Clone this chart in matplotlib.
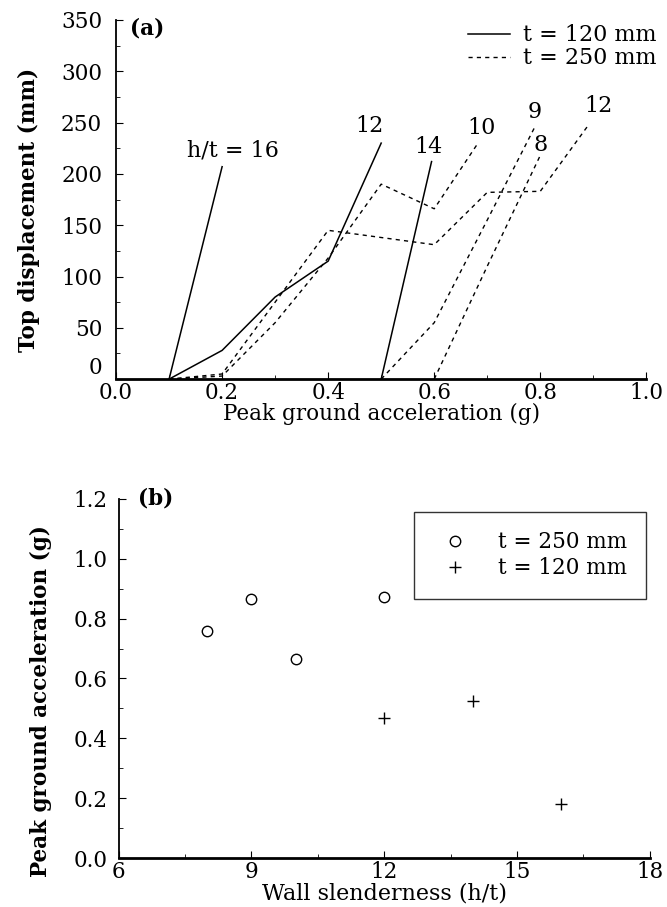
import matplotlib
matplotlib.use("Agg")
import matplotlib.pyplot as plt
from matplotlib.lines import Line2D
from matplotlib.ticker import MultipleLocator, FormatStrFormatter, FuncFormatter
from matplotlib.transforms import blended_transform_factory, ScaledTranslation

plt.rcParams['font.family'] = ['DejaVu Serif']

# %% panel (a): top displacement vs PGA
# t = 120 mm (solid)
pga_120_16 = [0.1, 0.2]
disp_120_16 = [0, 207]
pga_120_12 = [0.1, 0.2, 0.3, 0.4, 0.5]
disp_120_12 = [0, 28, 80, 115, 230]
pga_120_14 = [0.5, 0.595]
disp_120_14 = [0, 212]

# t = 250 mm (dashed)
pga_250_10 = [0.1, 0.2, 0.3, 0.4, 0.5, 0.6, 0.68]
disp_250_10 = [0, 3, 55, 118, 190, 166, 228]
pga_250_12 = [0.1, 0.2, 0.3, 0.4, 0.6, 0.7, 0.8, 0.89]
disp_250_12 = [0, 5, 75, 145, 131, 182, 183, 247]
pga_250_9 = [0.5, 0.6, 0.7, 0.79]
disp_250_9 = [0, 55, 155, 246]
pga_250_8 = [0.6, 0.7, 0.8]
disp_250_8 = [0, 110, 218]

# curve labels (h/t)
lab_txt = ['h/t = 16', '12', '14', '10', '9', '8', '12']
lab_x = [0.22, 0.478, 0.59, 0.69, 0.79, 0.80, 0.909]
lab_y = [212, 236, 215, 234, 250, 217, 255]

# %% panel (b): PGA vs wall slenderness
hs_250 = [8, 9, 10, 12]
pga_250 = [0.758, 0.864, 0.665, 0.871]
hs_120 = [12, 14, 16]
pga_120 = [0.469, 0.525, 0.182]

fs = 15.5
fig = plt.figure(figsize=(6.67, 9.07), dpi=100)
ax1 = fig.add_axes([0.174, 0.582, 0.795, 0.396])
ax2 = fig.add_axes([0.178, 0.054, 0.796, 0.396])

for ax in (ax1, ax2):
    ax.spines['top'].set_visible(False)
    ax.spines['right'].set_visible(False)
    ax.spines['left'].set_linewidth(1.3)
    ax.spines['bottom'].set_linewidth(2.0)
    ax.tick_params(which='both', direction='in', labelsize=fs)
    ax.tick_params(which='major', length=5)
    ax.tick_params(which='minor', length=3)
    ax.tick_params(axis='x', pad=2)
ax1.tick_params(axis='y', pad=10)
ax2.tick_params(axis='y', pad=8)

kw_s = dict(color='black', lw=1.1, ls='-')
kw_d = dict(color='black', lw=1.0, ls=(0, (3, 3)))
ax1.plot(pga_120_16, disp_120_16, **kw_s)
ax1.plot(pga_120_12, disp_120_12, **kw_s)
ax1.plot(pga_120_14, disp_120_14, **kw_s)
ax1.plot(pga_250_10, disp_250_10, **kw_d)
ax1.plot(pga_250_12, disp_250_12, **kw_d)
ax1.plot(pga_250_9, disp_250_9, **kw_d)
ax1.plot(pga_250_8, disp_250_8, **kw_d)
for t, x, y in zip(lab_txt, lab_x, lab_y):
    ax1.text(x, y, t, fontsize=16, ha='center', va='bottom')

ax1.set_xlim(0, 1.0)
ax1.set_ylim(0, 350)
ax1.xaxis.set_major_locator(MultipleLocator(0.2))
ax1.xaxis.set_minor_locator(MultipleLocator(0.1))
ax1.yaxis.set_major_locator(MultipleLocator(50))
ax1.yaxis.set_minor_locator(MultipleLocator(25))
ax1.xaxis.set_major_formatter(FormatStrFormatter('%.1f'))
# the "0" of the y axis sits just above the axis line, as in the original
ax1.yaxis.set_major_formatter(FuncFormatter(lambda v, p: '' if v == 0 else '%d' % v))
zero_tr = blended_transform_factory(ax1.transAxes, ax1.transData) + \
    ScaledTranslation(-10 / 72, 0, fig.dpi_scale_trans)
ax1.text(0, 0, '0', transform=zero_tr, fontsize=fs, ha='right', va='bottom')
ax1.set_xlabel('Peak ground acceleration (g)', fontsize=fs, labelpad=-1)
ax1.set_ylabel('Top displacement (mm)', fontsize=fs, fontweight='bold')
ax1.yaxis.set_label_coords(-0.144, 0.47)
ax1.text(0.026, 342, '(a)', fontsize=fs, fontweight='bold', va='center')
handles = [Line2D([], [], **kw_s), Line2D([], [], **kw_d)]
ax1.legend(handles, ['t = 120 mm', 't = 250 mm'], loc='upper right',
           bbox_to_anchor=(1.045, 1.025), frameon=False, fontsize=16,
           handlelength=1.9, handletextpad=0.6, labelspacing=0.05,
           borderaxespad=0.2)

# %% panel (b)
ax2.plot(hs_250, pga_250, ls='none', marker='o', ms=7.5, mfc='white', mec='black',
         mew=1.0, label='t = 250 mm')
ax2.plot(hs_120, pga_120, ls='none', marker='+', ms=8, color='black', mew=1.0,
         label='t = 120 mm')
ax2.set_xlim(6, 18)
ax2.set_ylim(0, 1.2)
ax2.xaxis.set_major_locator(MultipleLocator(3))
ax2.xaxis.set_minor_locator(MultipleLocator(1.5))
ax2.yaxis.set_major_locator(MultipleLocator(0.2))
ax2.yaxis.set_minor_locator(MultipleLocator(0.1))
ax2.yaxis.set_major_formatter(FormatStrFormatter('%.1f'))
ax2.set_xlabel('Wall slenderness (h/t)', fontsize=16, labelpad=0)
ax2.set_ylabel('Peak ground acceleration (g)', fontsize=fs, fontweight='bold')
ax2.yaxis.set_label_coords(-0.125, 0.437)
ax2.text(6.43, 1.2, '(b)', fontsize=fs, fontweight='bold', va='center')
leg = ax2.legend(loc='upper right', bbox_to_anchor=(0.994, 0.964), borderaxespad=0,
                 fontsize=fs, frameon=True, fancybox=False, edgecolor='black',
                 borderpad=0.9, handletextpad=1.0, labelspacing=0.2)
leg.get_frame().set_linewidth(1.0)

fig.savefig('out.png', dpi=100)
